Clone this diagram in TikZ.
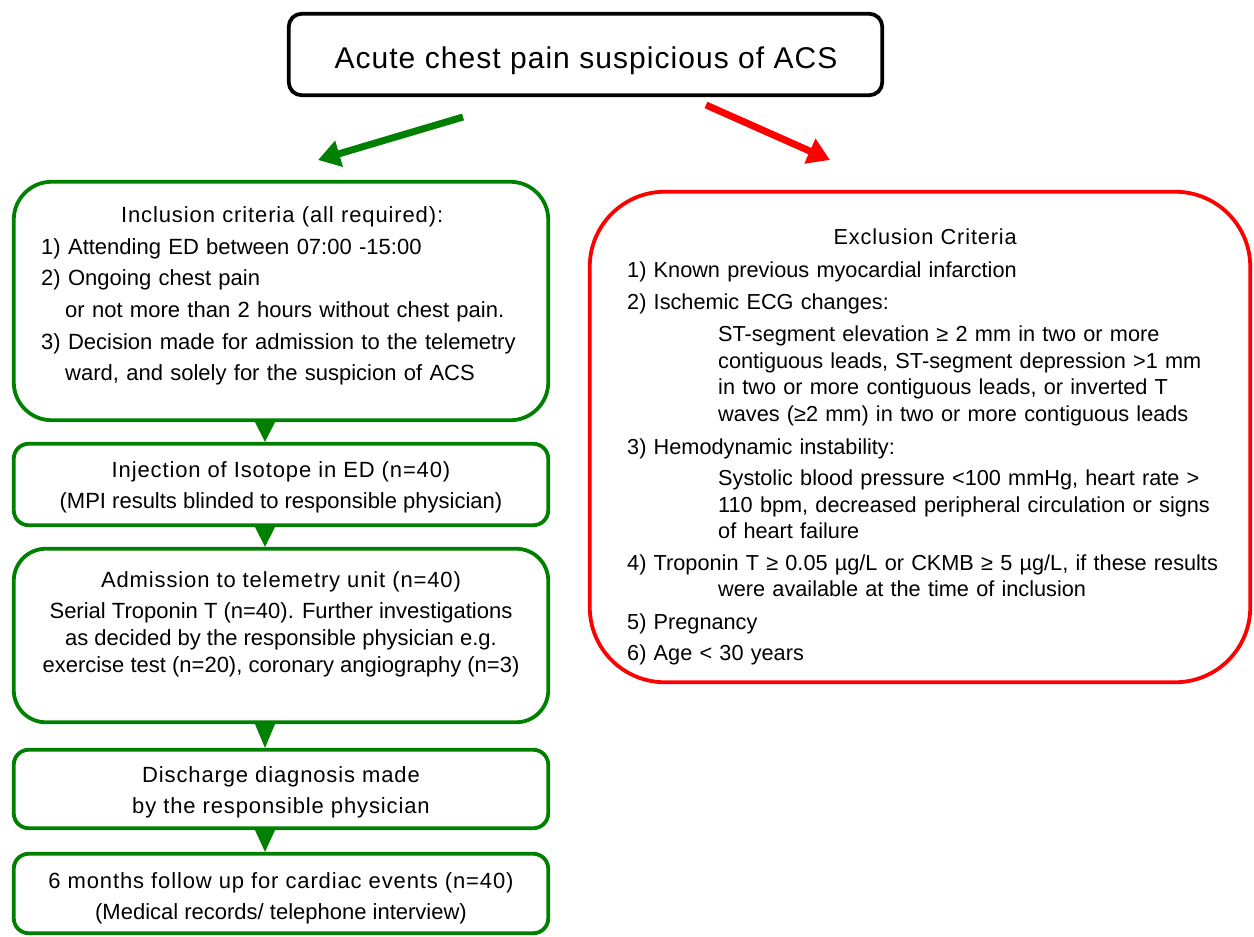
\documentclass[tikz,border=0pt]{standalone}
\usepackage{fontspec}
\setmainfont{Liberation Sans}
\usetikzlibrary{arrows.meta,calc}
\definecolor{fgreen}{RGB}{0,128,0}
\definecolor{fred}{RGB}{255,0,0}
\newcommand{\setfs}[2]{\fontsize{#1pt}{#2pt}\selectfont}
\newcommand{\hdtxt}[1]{{\addfontfeatures{LetterSpace=4}#1}}
\begin{document}
\begin{tikzpicture}[x=1pt,y=-1pt,
  frame/.style={draw, line width=3.8pt, fill=white, inner sep=0pt, minimum width=534.5pt},
  gframe/.style={frame, draw=fgreen},
  txt/.style={inner sep=0pt, text=black},
  bigarrow/.style={line width=7pt, -{Triangle[length=22pt,width=26pt]}}]
\fill[white] (0,0) rectangle (1254,937);
\useasboundingbox (0,0) rectangle (1254,937);

% top box
\node[frame, draw=black, minimum width=593.5pt, minimum height=81.5pt, rounded corners=13pt] (top) at (585.5,54.5) {};
\node[txt, font=\setfs{30}{35}] (topT) at (586,60.5) {\addfontfeatures{LetterSpace=3.5}Acute chest pain suspicious of ACS};

% inclusion
\node[gframe, minimum height=238.5pt, rounded corners=38pt] (inc) at (281,301) {};
\node[txt, font=\setfs{22}{31.6}, text width=500pt, align=left, anchor=west] (incT) at (41,296) {%
\makebox[482pt][c]{\hdtxt{Inclusion criteria (all required):}}\\
1) Attending ED between 07:00 -15:00\\
2) Ongoing chest pain\\
\hspace*{24pt}or not more than 2 hours without chest pain.\\
3) Decision made for admission to the telemetry\\
\hspace*{24pt}ward, and solely for the suspicion of ACS};

% injection
\node[gframe, minimum height=81.5pt, rounded corners=15pt] (inj) at (281,484.5) {};
\node[txt, font=\setfs{22}{31}, align=center] (injT) at (281,487.5) {\hdtxt{Injection of Isotope in ED (n=40)}\\(MPI results blinded to responsible physician)};

% admission
\node[gframe, minimum height=173.5pt, rounded corners=32pt] (adm) at (281,635.5) {};
\node[txt, font=\setfs{22}{27}, align=center] (admT) at (281,624.5) {\hdtxt{Admission to telemetry unit (n=40)}\\[4pt]Serial Troponin T (n=40). Further investigations\\as decided by the responsible physician e.g.\\exercise test (n=20), coronary angiography (n=3)};

% discharge
\node[gframe, minimum height=78.5pt, rounded corners=15pt] (dis) at (281,789) {};
\node[txt, font=\setfs{22}{31}, align=center] (disT) at (281,792.5) {\hdtxt{Discharge diagnosis made}\\\hdtxt{by the responsible physician}};

% follow up
\node[gframe, minimum height=79.5pt, rounded corners=15pt] (fol) at (281,893.5) {};
\node[txt, font=\setfs{22}{31}, align=center] (folT) at (281,898.5) {\hdtxt{6 months follow up for cardiac events (n=40)}\\(Medical records/ telephone interview)};

% exclusion
\node[frame, draw=fred, minimum width=660.5pt, minimum height=490.5pt, rounded corners=75pt] (exc) at (920,437) {};
\node[txt, font=\setfs{21.7}{26.7}, text width=620pt, align=left, anchor=west] (excT) at (627,447) {%
\makebox[596pt][c]{\hdtxt{Exclusion Criteria}}\\[6pt]
1) Known previous myocardial infarction\\[5.5pt]
2) Ischemic ECG changes:\\[5.5pt]
\hspace*{91pt}ST-segment elevation ≥ 2 mm in two or more\\
\hspace*{91pt}contiguous leads, ST-segment depression >1 mm\\
\hspace*{91pt}in two or more contiguous leads, or inverted T\\
\hspace*{91pt}waves (≥2 mm) in two or more contiguous leads\\[6pt]
3) Hemodynamic instability:\\[4.5pt]
\hspace*{91pt}Systolic blood pressure <100 mmHg, heart rate >\\
\hspace*{91pt}110 bpm, decreased peripheral circulation or signs\\
\hspace*{91pt}of heart failure\\[4.5pt]
4) Troponin T ≥ 0.05 µg/L or CKMB ≥ 5 µg/L, if these results\\
\hspace*{91pt}were available at the time of inclusion\\[6pt]
5) Pregnancy\\[4.5pt]
6) Age < 30 years};

% connectors between left boxes
\coordinate (tx) at (265,0);
\foreach \a/\b in {inc/inj,inj/adm,adm/dis,dis/fol}{
  \fill[fgreen] ($(\a.south -| tx)+(-10,0)$) -- ($(\a.south -| tx)+(10,0)$) -- (\b.north -| tx) -- cycle;
}

% big arrows
\coordinate (gA) at (463,117);
\coordinate (gB) at (318,160);
\coordinate (rA) at (706,105);
\coordinate (rB) at (830,160);
\draw[bigarrow, fgreen] (gA) -- (gB);
\draw[bigarrow, fred] (rA) -- (rB);
\end{tikzpicture}
\end{document}
